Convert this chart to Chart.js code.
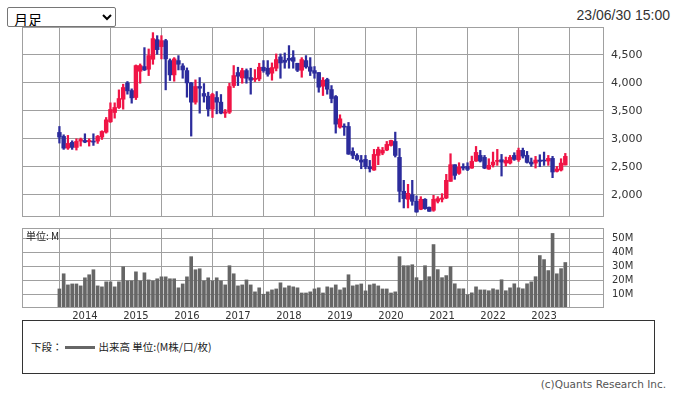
<!DOCTYPE html>
<html>
<head>
<meta charset="utf-8">
<script src="https://cdn.jsdelivr.net/npm/chart.js@4.4.1/dist/chart.umd.min.js"></script>
<style>
  html,body{margin:0;padding:0;background:#fff;}
  body{width:676px;height:396px;position:relative;overflow:hidden;font-family:"Noto Sans CJK JP","DejaVu Sans",sans-serif;}
  #sel{position:absolute;left:7px;top:7px;width:109px;height:20px;font-size:14px;font-family:"Noto Sans CJK JP",sans-serif;padding:0 2px;box-sizing:border-box;background:#fff;color:#000;border:1px solid #767676;border-radius:2px;}
  #date{position:absolute;right:6px;top:7px;font:14px "Liberation Sans",Arial,sans-serif;color:#333;}
  #c1{position:absolute;left:0;top:0;}
  #c2{position:absolute;left:0;top:220px;}
  #unit{position:absolute;left:26px;top:230px;font-size:10px;line-height:12px;color:#222;}
  #legend{position:absolute;left:22px;top:320px;width:633px;height:54px;border:1px solid #333;box-sizing:border-box;}
  #legtxt{position:absolute;left:8px;top:19px;font-size:10.5px;line-height:14px;color:#222;white-space:nowrap;}
  #legline{display:inline-block;width:30px;height:3px;background:#666;vertical-align:middle;margin:0 4px 2px 2px;}
  #copy{position:absolute;right:10px;top:378px;font:10.5px "DejaVu Sans",sans-serif;color:#555;}
</style>
</head>
<body>
<select id="sel"><option>月足</option></select>
<div id="date">23/06/30 15:00</div>
<canvas id="c1" width="676" height="220"></canvas>
<canvas id="c2" width="676" height="100"></canvas>
<div id="unit">単位: M</div>
<div id="legend"><div id="legtxt">下段：<span id="legline"></span>出来高 単位:(M株/口/枚)</div></div>
<div id="copy">(c)Quants Research Inc.</div>
<script>
const months = [
  "2013/07","2013/08","2013/09","2013/10","2013/11","2013/12",
  "2014/01","2014/02","2014/03","2014/04","2014/05","2014/06","2014/07","2014/08","2014/09","2014/10","2014/11","2014/12",
  "2015/01","2015/02","2015/03","2015/04","2015/05","2015/06","2015/07","2015/08","2015/09","2015/10","2015/11","2015/12",
  "2016/01","2016/02","2016/03","2016/04","2016/05","2016/06","2016/07","2016/08","2016/09","2016/10","2016/11","2016/12",
  "2017/01","2017/02","2017/03","2017/04","2017/05","2017/06","2017/07","2017/08","2017/09","2017/10","2017/11","2017/12",
  "2018/01","2018/02","2018/03","2018/04","2018/05","2018/06","2018/07","2018/08","2018/09","2018/10","2018/11","2018/12",
  "2019/01","2019/02","2019/03","2019/04","2019/05","2019/06","2019/07","2019/08","2019/09","2019/10","2019/11","2019/12",
  "2020/01","2020/02","2020/03","2020/04","2020/05","2020/06","2020/07","2020/08","2020/09","2020/10","2020/11","2020/12",
  "2021/01","2021/02","2021/03","2021/04","2021/05","2021/06","2021/07","2021/08","2021/09","2021/10","2021/11","2021/12",
  "2022/01","2022/02","2022/03","2022/04","2022/05","2022/06","2022/07","2022/08","2022/09","2022/10","2022/11","2022/12",
  "2023/01","2023/02","2023/03","2023/04","2023/05","2023/06"
];
const openP = [
  3113,3042,2833,2935,2845,2958,
  2970,2946,2958,2958,3030,3119,3304,3470,3560,3708,4000,3863,
  3738,4208,4292,4244,4423,4774,4649,4756,4399,4143,4399,4304,
  4220,4000,3655,3935,3810,3762,3530,3738,3655,3458,3476,3952,
  4185,4089,4220,4095,4060,4071,4280,4262,4173,4262,4464,4405,
  4440,4452,4351,4226,4399,4286,4220,4185,3940,4060,3881,3756,
  3208,3226,3220,2774,2702,2619,2631,2500,2440,2702,2744,2798,
  2881,2952,2667,2060,1917,2000,1881,1738,1917,1774,1720,1881,
  1917,1940,2238,2536,2381,2500,2506,2476,2601,2702,2667,2458,
  2530,2595,2625,2565,2565,2702,2625,2792,2702,2583,2565,2619,
  2613,2601,2649,2417,2440,2530
];
const highP = [
  3220,3071,3060,2964,3000,3012,
  3089,3000,3089,3060,3143,3381,3643,3643,3875,3976,4024,3893,
  4321,4339,4631,4607,4899,4845,4845,4780,4429,4452,4488,4345,
  4268,4010,4054,4095,3988,3833,3815,3845,3792,3524,3994,4310,
  4280,4262,4250,4262,4238,4351,4399,4399,4357,4518,4518,4536,
  4667,4577,4351,4452,4488,4452,4292,4185,4095,4083,3952,3774,
  3429,3268,3292,2839,2732,2702,2702,2613,2810,2851,2845,2952,
  2975,3119,2827,2256,2185,2256,1976,1964,1929,1780,1988,1964,
  2018,2363,2732,2536,2571,2554,2571,2690,2863,2792,2702,2643,
  2762,2810,2720,2673,2702,2750,2833,2833,2774,2655,2685,2714,
  2762,2702,2685,2506,2643,2738
];
const lowP = [
  2923,2810,2810,2810,2798,2869,
  2929,2869,2881,2917,2988,3101,3292,3369,3542,3530,3798,3637,
  3702,3994,4220,4131,4333,4512,4429,3875,4042,4030,4232,4083,
  3744,3048,3619,3458,3655,3405,3381,3446,3446,3381,3452,3917,
  3952,3994,3994,3798,4024,4036,4190,4119,4048,4214,4083,4262,
  4262,4262,4202,4101,4262,4131,4083,3833,3774,3798,3643,3101,
  3190,3060,2720,2643,2613,2464,2464,2405,2435,2536,2714,2786,
  2869,2673,1869,1762,1762,1810,1685,1730,1738,1700,1702,1851,
  1869,1929,2238,2274,2363,2440,2429,2470,2595,2583,2464,2452,
  2494,2524,2333,2512,2548,2613,2595,2655,2565,2506,2476,2500,
  2524,2524,2304,2405,2423,2530
];
const closeP = [
  3030,2833,2917,2845,2952,2988,
  2940,2970,2940,3042,3131,3339,3524,3560,3720,3917,3857,3732,
  4310,4310,4232,4488,4792,4595,4756,4429,4143,4429,4333,4232,
  4000,3655,3935,3905,3762,3530,3792,3655,3458,3482,3935,4131,
  4119,4220,4083,4048,4083,4280,4220,4155,4274,4417,4357,4369,
  4405,4387,4226,4417,4286,4208,4173,3923,4048,3887,3720,3262,
  3357,3208,2726,2702,2631,2583,2500,2464,2720,2810,2792,2899,
  2970,2702,2060,1929,2024,1881,1690,1917,1750,1702,1917,1929,
  1940,2256,2536,2345,2494,2476,2452,2595,2756,2601,2476,2524,
  2583,2613,2583,2613,2667,2631,2792,2690,2577,2548,2619,2595,
  2601,2649,2405,2458,2565,2685
];
const volumeM = [
  13.7,24.6,16.6,17.3,17.3,15.9,
  21.7,23.9,27.5,15.9,15.2,18.8,18.8,15.2,18.8,29.6,19.5,19.5,
  26.0,19.5,25.3,20.2,19.5,21.0,22.4,22.4,21.0,21.0,14.5,17.3,
  22.4,36.9,27.5,28.2,19.5,21.7,19.5,21.7,19.5,16.6,30.4,24.6,
  15.9,16.6,20.2,16.6,11.6,14.5,9.9,11.6,13.0,13.7,18.1,14.5,
  15.9,15.2,14.5,10.8,10.8,11.6,13.7,14.5,10.8,15.2,14.5,16.6,
  13.0,14.5,23.9,15.9,16.6,17.3,12.3,16.6,17.3,15.9,13.7,13.7,
  10.8,11.6,36.9,30.4,30.4,31.1,21.8,19.6,30.4,22.5,45.6,27.6,
  21.8,23.3,29.7,17.4,13.8,13.8,9.5,10.9,15.2,13.0,13.0,12.4,
  13.8,13.0,20.3,12.4,14.5,17.4,14.5,13.8,17.4,18.8,22.5,37.7,
  34.8,26.9,53.6,24.6,28.3,32.7
];
const priceTicks = [2000,2500,3000,3500,4000,4500];
const volumeTicks = [10,20,30,40,50];

const GRID = '#a0a0a0';
const UP = '#f01446';
const DOWN = '#2c2c9c';
const yearIdx = months.map((m,i)=>m.endsWith('/01') ? i : -1).filter(i=>i>=0);
const candleColor = i => closeP[i] >= openP[i] ? UP : DOWN;

const frame = {
  id:'frame',
  afterDraw(c){
    const a=c.chartArea, ctx=c.ctx;
    ctx.save();
    ctx.strokeStyle=GRID; ctx.lineWidth=1;
    const l=Math.round(a.left)+0.5, t=Math.round(a.top)+0.5, r=Math.round(a.right)-0.5, b=Math.round(a.bottom)-0.5;
    ctx.strokeRect(l,t,r-l,b-t);
    ctx.restore();
  }
};
const noPad = s => { s.paddingTop=0; s.paddingBottom=0; s.paddingLeft=0; s.paddingRight=0; };

const XMIN = -8.8, XMAX = 128.1;

new Chart(document.getElementById('c1'), {
  type:'bar',
  data:{
    datasets:[
      {
        data: months.map((m,i)=>({x:i, y:[lowP[i], highP[i]]})),
        backgroundColor: months.map((m,i)=>candleColor(i)),
        barThickness: 1.6, grouped:false, borderWidth:0
      },
      {
        data: months.map((m,i)=>({x:i, y:[openP[i], closeP[i]]})),
        backgroundColor: months.map((m,i)=>candleColor(i)),
        barThickness: 3.8, grouped:false, borderWidth:0, minBarLength:1
      }
    ]
  },
  options:{
    responsive:false, animation:false, devicePixelRatio:1,
    layout:{padding:{left:22, top:27, right:0, bottom:3}},
    plugins:{legend:{display:false}, tooltip:{enabled:false}},
    scales:{
      x:{type:'linear', min:XMIN, max:XMAX, offset:false,
         grid:{color:GRID, drawTicks:false}, border:{display:false},
         ticks:{display:false},
         afterBuildTicks:s=>{s.ticks=yearIdx.map(v=>({value:v}));},
         afterFit:s=>{s.height=0; noPad(s);}},
      y:{position:'right', min:1600, max:5000,
         grid:{color:GRID, drawTicks:false}, border:{display:false},
         ticks:{padding:7, color:'#333', font:{family:'DejaVu Sans', size:11},
                callback:v=>v.toLocaleString('en-US')},
         afterBuildTicks:s=>{s.ticks=priceTicks.map(v=>({value:v}));},
         afterFit:s=>{s.width=72; noPad(s);}}
    }
  },
  plugins:[frame]
});

new Chart(document.getElementById('c2'), {
  type:'bar',
  data:{
    datasets:[{
      data: months.map((m,i)=>({x:i, y:volumeM[i]})),
      backgroundColor:'#666666', barThickness:3, borderWidth:0
    }]
  },
  options:{
    responsive:false, animation:false, devicePixelRatio:1,
    layout:{padding:{left:22, top:8, right:0, bottom:0}},
    plugins:{legend:{display:false}, tooltip:{enabled:false}},
    scales:{
      x:{type:'linear', min:XMIN, max:XMAX, offset:false,
         grid:{color:GRID, drawTicks:false}, border:{display:false},
         ticks:{padding:2, color:'#333', font:{family:'DejaVu Sans', size:10}, maxRotation:0, autoSkip:false,
                callback:v=>months[v] ? months[v].slice(0,4) : ''},
         afterBuildTicks:s=>{s.ticks=yearIdx.map(v=>({value:v}));},
         afterFit:s=>{s.height=12; noPad(s);}},
      y:{position:'right', min:0, max:57.5,
         grid:{color:GRID, drawTicks:false}, border:{display:false},
         ticks:{padding:8, color:'#333', font:{family:'DejaVu Sans', size:10},
                callback:v=>v+'M'},
         afterBuildTicks:s=>{s.ticks=volumeTicks.map(v=>({value:v}));},
         afterFit:s=>{s.width=72; noPad(s);}}
    }
  },
  plugins:[frame]
});
</script>
</body>
</html>
